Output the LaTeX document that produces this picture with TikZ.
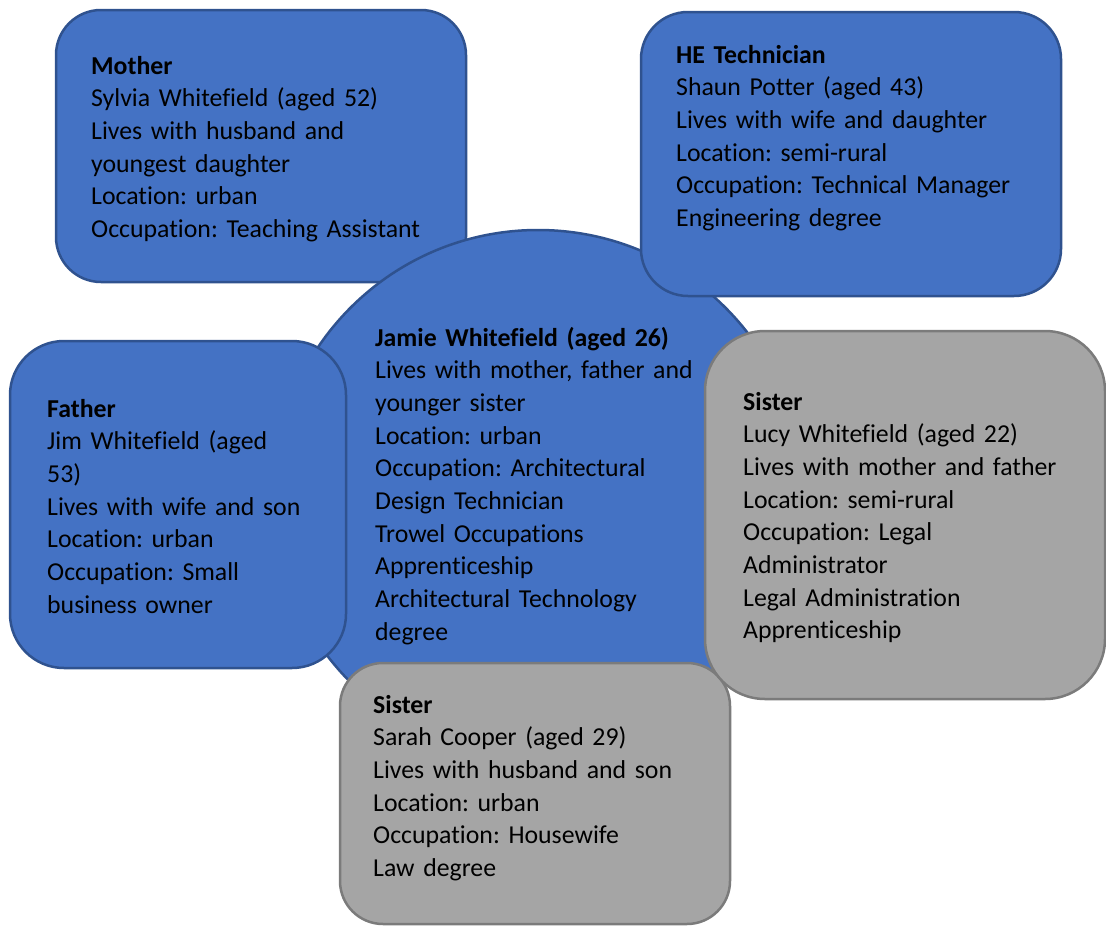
\documentclass[tikz,border=0pt]{standalone}
\usepackage{fontspec}
\setmainfont{Carlito}[Ligatures=NoCommon]
\frenchspacing
\definecolor{cardblue}{HTML}{4472C4}
\definecolor{cardblueline}{HTML}{2F528F}
\definecolor{cardgrey}{HTML}{A5A5A5}
\definecolor{cardgreyline}{HTML}{7B7B7B}
\tikzset{
  card/.style={rectangle, draw=cardblueline, fill=cardblue, line width=2.5pt, inner sep=0pt},
  greycard/.style={card, draw=cardgreyline, fill=cardgrey},
  info/.style={anchor=base west, text width=420pt, align=left, inner sep=0pt,
    font=\fontsize{25.8}{32.7}\selectfont}
}
\begin{document}
\begin{tikzpicture}[x=1pt,y=-1pt]
\useasboundingbox (0,0) rectangle (1106,926);
\node[card, minimum width=410pt, minimum height=272pt, rounded corners=45pt] (mother) at (261,146) {};
\node[info] (mothertext) at (91,74) {\textbf{Mother}\\Sylvia Whitefield (aged 52)\\Lives with husband and\\youngest daughter\\Location: urban\\Occupation: Teaching Assistant};
\node[card, circle, minimum size=530pt] (jamie) at (538,495) {};
\node[card, minimum width=420pt, minimum height=284pt, rounded corners=47pt] (tech) at (851,154) {};
\node[info] (techtext) at (676,63) {\textbf{HE Technician}\\Shaun Potter (aged 43)\\Lives with wife and daughter\\Location: semi-rural\\Occupation: Technical Manager\\Engineering degree};
\node[info] (jamietext) at (375,346) {\textbf{Jamie Whitefield (aged 26)}\\Lives with mother, father and\\younger sister\\Location: urban\\Occupation: Architectural\\Design Technician\\Trowel Occupations\\Apprenticeship\\Architectural Technology\\degree};
\node[card, minimum width=336pt, minimum height=327pt, rounded corners=54pt] (father) at (178,504.5) {};
\node[info] (fathertext) at (47,417) {\textbf{Father}\\Jim Whitefield (aged\\53)\\Lives with wife and son\\Location: urban\\Occupation: Small\\business owner};
\node[greycard, minimum width=390pt, minimum height=261pt, rounded corners=43pt] (sarah) at (535,793.5) {};
\node[info] (sarahtext) at (373,713) {\textbf{Sister}\\Sarah Cooper (aged 29)\\Lives with husband and son\\Location: urban\\Occupation: Housewife\\Law degree};
\node[greycard, minimum width=400pt, minimum height=368pt, rounded corners=60pt] (lucy) at (905,515) {};
\node[info] (lucytext) at (743,410) {\textbf{Sister}\\Lucy Whitefield (aged 22)\\Lives with mother and father\\Location: semi-rural\\Occupation: Legal\\Administrator\\Legal Administration\\Apprenticeship};
\end{tikzpicture}
\end{document}
